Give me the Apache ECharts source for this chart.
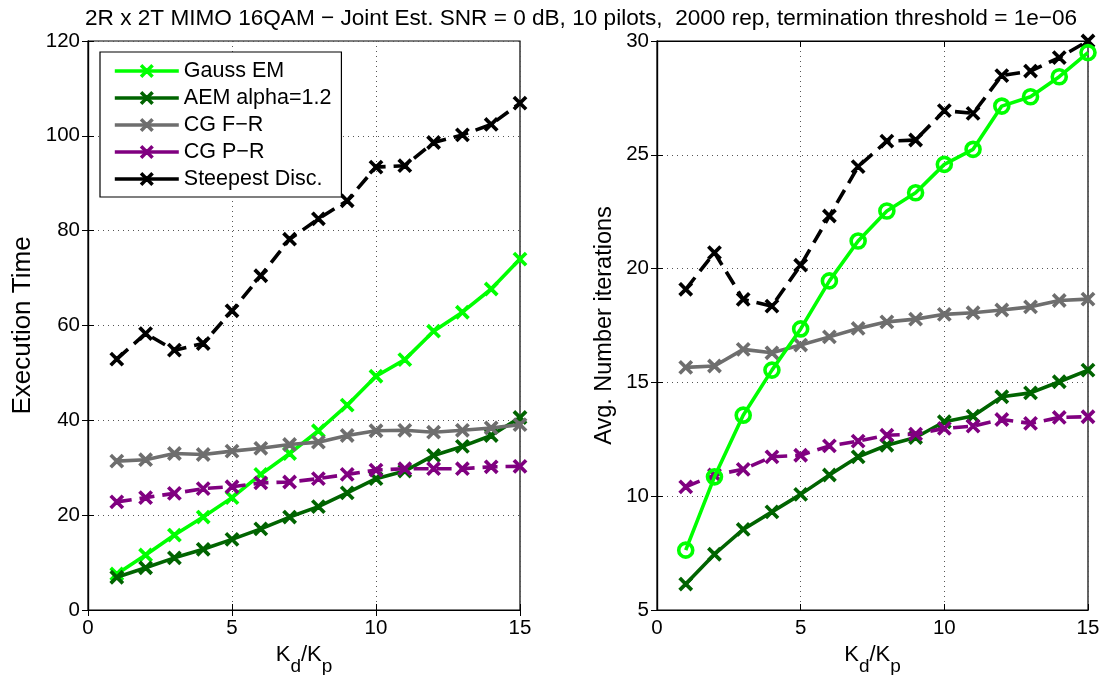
<!DOCTYPE html>
<html>
<head>
<meta charset="utf-8">
<script src="https://cdn.jsdelivr.net/npm/echarts@6/dist/echarts.min.js"></script>
<style>
html,body{margin:0;padding:0;background:#fff;}
#chart{width:1103px;height:675px;}
</style>
</head>
<body>
<div id="chart"></div>
<script>
// ---- data ----
const kRatio = [1,2,3,4,5,6,7,8,9,10,11,12,13,14,15];
const seriesNames = ['Gauss EM','AEM alpha=1.2','CG F\u2212R','CG P\u2212R','Steepest Disc.'];

// Left: execution time
const timeGaussEM  = [7.6,11.6,15.8,19.6,23.7,28.6,33.0,37.8,43.2,49.3,52.8,58.8,62.8,67.7,74.0];
const timeAEM      = [6.9,8.9,11.0,12.8,14.9,17.1,19.6,21.8,24.7,27.7,29.3,32.6,34.5,36.8,40.6];
const timeCGFR     = [31.4,31.7,33.0,32.8,33.5,34.1,34.9,35.4,36.8,37.8,37.9,37.5,37.9,38.4,39.1];
const timeCGPR     = [22.8,23.7,24.6,25.6,26.0,26.8,27.0,27.7,28.6,29.5,29.8,29.8,29.8,30.2,30.3];
const timeSteepest = [52.9,58.3,54.8,56.2,63.1,70.5,78.2,82.5,86.3,93.4,93.7,98.6,100.2,102.4,106.9];

// Right: average number of iterations
const iterGaussEM  = [7.63,10.85,13.56,15.54,17.35,19.46,21.21,22.53,23.33,24.58,25.24,27.14,27.55,28.43,29.49];
const iterAEM      = [6.14,7.45,8.54,9.31,10.08,10.93,11.73,12.24,12.58,13.27,13.52,14.37,14.54,15.03,15.54];
const iterCGFR     = [15.66,15.72,16.45,16.30,16.64,17.00,17.37,17.66,17.78,17.99,18.06,18.18,18.32,18.60,18.66];
const iterCGPR     = [10.41,10.93,11.18,11.73,11.80,12.21,12.42,12.68,12.73,12.98,13.08,13.37,13.20,13.46,13.49];
const iterSteepest = [19.09,20.70,18.65,18.35,20.15,22.31,24.48,25.60,25.65,26.94,26.82,28.48,28.68,29.27,30.00];

const xTicks = [0,5,10,15];
const leftYTicks = [0,20,40,60,80,100,120];
const rightYTicks = [5,10,15,20,25,30];

const titleText = '2R x 2T MIMO 16QAM \u2212 Joint Est. SNR = 0 dB, 10 pilots,  2000 rep, termination threshold = 1e\u221206';

// ---- styling ----
const FONT = 'Liberation Sans, Arial, Helvetica, sans-serif';
const colors = ['#00ff00','#006400','#6e6e6e','#800080','#000000'];
const dashed = [false,false,false,true,true];
const crossPath = 'path://M1,0 L5,4 L9,0 L10,1 L6,5 L10,9 L9,10 L5,6 L1,10 L0,9 L4,5 L0,1 Z';

function zip(ys){ return kRatio.map((k,i)=>[k, ys[i]]); }

function mkSeries(name, ys, idx, axisIdx, opts){
  opts = opts || {};
  const c = colors[idx];
  return {
    name: name,
    type: 'line',
    xAxisIndex: axisIdx, yAxisIndex: axisIdx,
    data: zip(ys),
    symbol: opts.symbol || crossPath,
    symbolSize: opts.symbolSize || 12,
    showSymbol: true,
    animation: false,
    z: opts.z || (3 + idx),
    lineStyle: {color: c, width: 3.6, type: dashed[idx] ? [15,8] : 'solid'},
    itemStyle: opts.itemStyle || {color: c, borderColor: c, borderWidth: 2},
    emphasis: {disabled: true}
  };
}

const leftData = [timeGaussEM,timeAEM,timeCGFR,timeCGPR,timeSteepest];
const rightData = [iterGaussEM,iterAEM,iterCGFR,iterCGPR,iterSteepest];

const series = [];
leftData.forEach((d,i)=>series.push(mkSeries(seriesNames[i], d, i, 0)));
rightData.forEach((d,i)=>{
  if(i===0){
    series.push(mkSeries(seriesNames[i], d, i, 2, {
      symbol:'circle', symbolSize:14, z:8,
      itemStyle:{color:'rgba(255,255,255,0)', borderColor:colors[0], borderWidth:3.6}
    }));
  } else {
    series.push(mkSeries(seriesNames[i], d, i, 2));
  }
});

const tickLabel = {color:'#000', fontSize:20.5, fontFamily:FONT, margin:8};
const splitLine = {show:true, lineStyle:{color:'#555', width:1, type:[1,4]}};
const axisLine = {show:true, lineStyle:{color:'#000', width:1.2}};
const tickIn = {show:true, inside:true, length:6, lineStyle:{color:'#000'}};

const xName = '{b|K}{s|d}{b|/K}{s|p}';
const xNameStyle = {
  color:'#000', fontFamily:FONT,
  rich:{
    b:{fontSize:22, fontFamily:FONT, color:'#000', lineHeight:32, verticalAlign:'top'},
    s:{fontSize:19, fontFamily:FONT, color:'#000', lineHeight:32, verticalAlign:'bottom'}
  }
};

function xAxes(gridIndex){
  return [
    {type:'value', gridIndex, min:0, max:15, interval:5, position:'bottom',
     axisLine, axisTick:tickIn, axisLabel:tickLabel, splitLine,
     name:xName, nameLocation:'middle', nameGap:23, nameTextStyle:xNameStyle},
    {type:'value', gridIndex, min:0, max:15, interval:5, position:'top',
     axisLine, axisTick:tickIn, axisLabel:{show:false}, splitLine:{show:false}}
  ];
}
function yAxes(gridIndex, min, max, interval, name, gap, fs){
  return [
    {type:'value', gridIndex, min, max, interval, position:'left',
     axisLine, axisTick:tickIn, axisLabel:tickLabel, splitLine,
     name, nameLocation:'middle', nameGap:gap,
     nameTextStyle:{color:'#000', fontSize:fs, fontFamily:FONT}},
    {type:'value', gridIndex, min, max, interval, position:'right',
     axisLine, axisTick:tickIn, axisLabel:{show:false}, splitLine:{show:false}}
  ];
}

const option = {
  backgroundColor:'#fff',
  animation:false,
  title:{
    text:titleText, left:80, top:2,
    textStyle:{color:'#000', fontSize:22.6, fontWeight:'normal', fontFamily:FONT}
  },
  legend:{
    data:seriesNames,
    orient:'vertical', left:100, top:52,
    backgroundColor:'#fff', borderColor:'#000', borderWidth:1.2,
    padding:[8,10,7,13], itemWidth:64, itemHeight:14, itemGap:5,
    lineStyle:{type:'solid', width:3.6},
    textStyle:{color:'#000', fontSize:21.5, fontFamily:FONT},
    selectedMode:false, z:20
  },
  grid:[
    {left:88, right:583, top:41, bottom:65, containLabel:false, outerBoundsMode:'none',
     show:true, borderColor:'#000', borderWidth:1.2, backgroundColor:'#fff'},
    {left:657, right:15, top:41, bottom:65, containLabel:false, outerBoundsMode:'none',
     show:true, borderColor:'#000', borderWidth:1.2, backgroundColor:'#fff'}
  ],
  xAxis:[...xAxes(0), ...xAxes(1)],
  yAxis:[...yAxes(0,0,120,20,'Execution Time',52,26), ...yAxes(1,5,30,5,'Avg. Number iterations',40,23.5)],
  series
};

const chart = echarts.init(document.getElementById('chart'), null, {renderer:'canvas'});
chart.setOption(option);
</script>
</body>
</html>
